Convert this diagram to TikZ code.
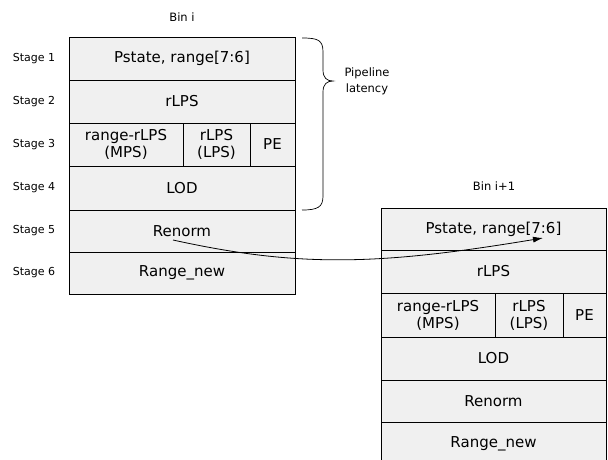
\documentclass[tikz,border=0pt]{standalone}
\usepackage{fontspec}
\setmainfont{DejaVu Sans}
\usetikzlibrary{arrows.meta}

\tikzset{
  cell/.style={draw=black, line width=0.8pt, fill=black!6, inner sep=0pt, outer sep=0pt,
               font=\fontsize{15}{16}\selectfont, align=center},
  stagelbl/.style={font=\fontsize{11}{13}\selectfont, inner sep=0pt},
  binlbl/.style={font=\fontsize{11.5}{13}\selectfont, inner sep=0pt},
  flow/.style={line width=0.8pt, -{Latex[length=10pt,width=6pt]}},
}

\begin{document}
\begin{tikzpicture}[x=1pt, y=-1pt]
  \clip (0,0) rectangle (608,459);
  \fill[white] (0,0) rectangle (608,459);

  % ---- pipeline of bin i ----
  \node[binlbl] (bini) at (182,17) {Bin i};
  \node[cell, minimum width=226pt, minimum height=43pt] (a1) at (182,58.5) {Pstate, range[7:6]};
  \node[cell, minimum width=226pt, minimum height=43pt] (a2) at (182,101.5) {rLPS};
  \node[cell, minimum width=114pt, minimum height=43pt, font=\fontsize{15}{17}\selectfont] (a3a) at (126,144.5) {range-rLPS\\(MPS)};
  \node[cell, minimum width=67pt, minimum height=43pt, font=\fontsize{15}{17}\selectfont] (a3b) at (216.5,144.5) {rLPS\\(LPS)};
  \node[cell, minimum width=45pt, minimum height=43pt] (a3c) at (272.5,144.5) {PE};
  \node[cell, minimum width=226pt, minimum height=44pt] (a4) at (182,188) {LOD};
  \node[cell, minimum width=226pt, minimum height=42pt] (a5) at (182,231) {Renorm};
  \node[cell, minimum width=226pt, minimum height=42pt] (a6) at (182,273) {Range\_new};

  % stage labels
  \node[stagelbl] (s1) at (34,58.5) {Stage 1};
  \node[stagelbl] (s2) at (34,101.5) {Stage 2};
  \node[stagelbl] (s3) at (34,144.5) {Stage 3};
  \node[stagelbl] (s4) at (34,188) {Stage 4};
  \node[stagelbl] (s5) at (34,231) {Stage 5};
  \node[stagelbl] (s6) at (34,273) {Stage 6};

  % ---- pipeline latency brace ----
  \draw[line width=0.7pt]
    (302,38) .. controls (318,38) and (323,40) .. (323,52)
    -- (323,70) .. controls (323,78) and (327,81) .. (333,81)
    .. controls (327,81) and (323,84) .. (323,92)
    -- (323,196) .. controls (323,207) and (318,210) .. (302,210);
  \node[binlbl, align=center, font=\fontsize{11.5}{16}\selectfont] (lat) at (367,81) {Pipeline\\latency};

  % ---- pipeline of bin i+1 ----
  \node[binlbl] (binj) at (494,186) {Bin i+1};
  \node[cell, minimum width=225pt, minimum height=42pt] (b1) at (493.5,229) {Pstate, range[7:6]};
  \node[cell, minimum width=225pt, minimum height=43pt] (b2) at (493.5,271.5) {rLPS};
  \node[cell, minimum width=114pt, minimum height=44pt, font=\fontsize{15}{17}\selectfont] (b3a) at (438,315) {range-rLPS\\(MPS)};
  \node[cell, minimum width=68pt, minimum height=44pt, font=\fontsize{15}{17}\selectfont] (b3b) at (529,315) {rLPS\\(LPS)};
  \node[cell, minimum width=43pt, minimum height=44pt] (b3c) at (584.5,315) {PE};
  \node[cell, minimum width=225pt, minimum height=43pt] (b4) at (493.5,358.5) {LOD};
  \node[cell, minimum width=225pt, minimum height=42pt] (b5) at (493.5,401) {Renorm};
  \node[cell, minimum width=225pt, minimum height=43pt] (b6) at (493.5,443.5) {Range\_new};

  % ---- forwarding from Renorm of bin i to Stage 1 of bin i+1 ----
  \coordinate (src) at (173,240);
  \coordinate (dst) at (543,238);
  \draw[flow] (src) .. controls (300,268) and (380,265) .. (dst);
\end{tikzpicture}
\end{document}
